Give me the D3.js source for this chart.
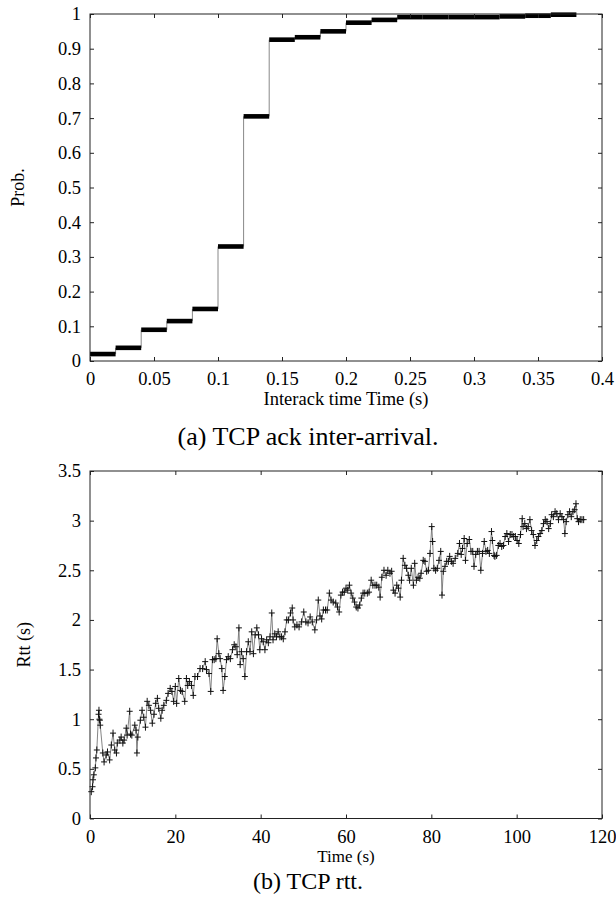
<!DOCTYPE html>
<html>
<head>
<meta charset="utf-8">
<script src="https://cdn.jsdelivr.net/npm/d3@7"></script>
<style>
  body { margin: 0; background: #fff; }
  svg text { font-family: "Liberation Serif", "Times New Roman", serif; fill: #000; }
</style>
</head>
<body>
<div id="chart"></div>
<script>
// (a) ack inter-arrival CDF: step start (s) and cumulative probability
const cdfStart = [0, 0.02, 0.04, 0.06, 0.08, 0.10, 0.12, 0.14, 0.16, 0.18, 0.20, 0.22, 0.24, 0.26, 0.28, 0.30, 0.32, 0.34, 0.36]
const cdfProb  = [0.02, 0.038, 0.09, 0.115, 0.15, 0.33, 0.705, 0.926, 0.933, 0.95, 0.975, 0.983, 0.991, 0.991, 0.991, 0.991, 0.993, 0.995, 0.998]
const cdfEnd = 0.38
const probTicks = [0, 0.1, 0.2, 0.3, 0.4, 0.5, 0.6, 0.7, 0.8, 0.9, 1]
const interTicks = [0, 0.05, 0.1, 0.15, 0.2, 0.25, 0.3, 0.35, 0.4]

// (b) rtt samples: [time (s), rtt (s)]
const rttSamples = [
  [0.3,0.27],[0.6,0.32],[0.7,0.39],[0.9,0.44],[1.25,0.51],[1.4,0.61],[1.6,0.69],[2.0,1.05],[2.1,1.09],[2.2,1.0],
  [2.3,0.99],[2.4,0.94],[3.0,0.66],[3.3,0.57],[3.8,0.64],[4.1,0.67],[4.6,0.59],[5.0,0.74],[5.4,0.86],[5.8,0.69],
  [6.2,0.66],[6.4,0.76],[7.0,0.79],[7.3,0.82],[7.7,0.76],[8.0,0.79],[8.5,0.91],[8.7,0.84],[9.3,1.08],[9.5,0.85],
  [9.8,0.84],[10.5,0.94],[10.8,0.89],[11.0,0.66],[11.2,0.82],[11.8,0.99],[12.2,1.09],[12.6,1.02],[13.0,0.92],[13.4,1.18],
  [13.8,1.14],[14.2,1.09],[14.6,0.96],[15.0,1.05],[15.4,1.16],[15.8,1.21],[16.1,1.11],[16.6,1.01],[16.9,1.09],[17.3,1.14],
  [17.9,1.19],[18.3,1.26],[18.8,1.31],[19.2,1.28],[19.6,1.18],[20.0,1.33],[20.3,1.16],[20.8,1.41],[21.2,1.29],[21.6,1.28],
  [22.2,1.18],[22.6,1.41],[22.9,1.34],[23.3,1.38],[23.8,1.34],[24.2,1.24],[24.6,1.43],[25.2,1.43],[25.8,1.51],[26.4,1.51],
  [27.0,1.58],[27.3,1.50],[27.9,1.46],[28.3,1.28],[28.7,1.60],[29.1,1.60],[29.5,1.61],[29.8,1.81],[30.2,1.66],[30.5,1.61],
  [30.9,1.51],[31.2,1.29],[31.6,1.43],[32.0,1.60],[32.4,1.63],[32.9,1.61],[33.4,1.70],[33.8,1.75],[34.2,1.73],[34.5,1.65],
  [34.9,1.92],[35.2,1.55],[35.5,1.68],[35.9,1.61],[36.3,1.43],[36.7,1.68],[37.1,1.78],[37.5,1.68],[37.9,1.88],[38.3,1.66],
  [38.7,1.85],[39.1,1.92],[39.5,1.85],[39.8,1.70],[40.2,1.81],[40.6,1.78],[41.0,1.70],[41.4,1.80],[41.8,1.77],[42.2,1.83],
  [42.6,2.07],[42.9,1.80],[43.3,1.86],[43.7,1.83],[44.1,1.88],[44.5,1.83],[44.9,1.83],[45.3,1.81],[45.7,1.88],[46.1,2.00],
  [46.5,2.00],[47.0,2.07],[47.4,2.12],[47.6,2.0],[48.0,1.93],[48.5,1.95],[49.0,1.93],[49.6,1.98],[50.1,2.08],[50.6,1.98],
  [51.1,1.97],[51.6,2.03],[52.1,1.98],[52.7,1.90],[53.1,2.0],[53.5,2.20],[53.9,2.04],[54.3,2.01],[54.7,2.10],[55.2,2.10],
  [55.6,2.10],[56.1,2.27],[56.5,2.20],[57.0,2.18],[57.6,2.17],[58.0,2.13],[58.4,2.08],[58.8,2.25],[59.2,2.28],[59.6,2.28],
  [60.0,2.32],[60.4,2.30],[60.8,2.35],[61.2,2.27],[61.6,2.22],[62.0,2.18],[62.4,2.13],[62.8,2.12],[63.2,2.15],[63.6,2.22],
  [64.0,2.27],[64.4,2.27],[65.0,2.27],[65.4,2.28],[65.9,2.40],[66.3,2.35],[66.8,2.35],[67.2,2.35],[67.7,2.33],[68.0,2.23],
  [68.4,2.43],[68.9,2.50],[69.4,2.45],[69.8,2.50],[70.3,2.47],[70.7,2.49],[71.1,2.30],[71.5,2.27],[71.9,2.35],[72.3,2.32],
  [72.7,2.23],[73.0,2.40],[73.4,2.62],[73.8,2.55],[74.2,2.52],[74.6,2.45],[74.9,2.40],[75.3,2.52],[75.8,2.35],[76.1,2.57],
  [76.5,2.40],[76.9,2.43],[77.3,2.42],[77.6,2.47],[78.1,2.60],[78.5,2.59],[78.9,2.49],[79.3,2.50],[79.7,2.67],[80.1,2.94],
  [80.3,2.79],[80.6,2.52],[81.0,2.50],[81.4,2.52],[81.8,2.60],[82.2,2.69],[82.5,2.25],[82.8,2.49],[83.2,2.54],[83.6,2.59],
  [84.0,2.59],[84.3,2.64],[84.7,2.59],[85.1,2.57],[85.6,2.62],[86.2,2.67],[86.6,2.77],[87.0,2.66],[87.3,2.72],[87.7,2.82],
  [88.0,2.60],[88.4,2.77],[88.9,2.81],[89.3,2.69],[89.7,2.69],[90.0,2.54],[90.4,2.66],[90.8,2.69],[91.2,2.69],[91.6,2.50],
  [92.0,2.67],[92.4,2.79],[92.8,2.69],[93.2,2.70],[93.6,2.67],[94.1,2.89],[94.3,2.80],[94.7,2.65],[94.9,2.64],[95.3,2.65],
  [95.7,2.75],[96.1,2.77],[96.5,2.74],[96.9,2.75],[97.3,2.84],[97.7,2.87],[98.1,2.79],[98.5,2.86],[98.9,2.86],[99.3,2.84],
  [99.7,2.84],[100.1,2.80],[100.5,2.77],[100.9,2.86],[101.3,3.02],[101.5,2.94],[101.9,2.97],[102.3,2.92],[102.7,2.94],[103.1,3.01],
  [103.5,2.90],[103.9,2.86],[104.3,2.75],[104.7,2.80],[105.1,2.84],[105.5,2.87],[105.9,2.90],[106.3,2.97],[106.7,3.01],[107.1,2.99],
  [107.5,2.92],[107.9,2.97],[108.2,3.06],[108.6,3.04],[109.0,3.09],[109.4,3.07],[109.8,3.01],[110.2,3.07],[110.6,3.04],[111.0,3.01],
  [111.3,2.87],[111.6,2.99],[112.0,3.06],[112.4,3.09],[112.8,3.04],[113.2,3.09],[113.6,3.11],[113.9,3.17],[114.2,3.02],[114.5,2.99],
  [114.9,3.01],[115.3,3.01],[115.7,3.01]
]
const rttTicks = [0, 0.5, 1, 1.5, 2, 2.5, 3, 3.5]
const timeTicks = [0, 20, 40, 60, 80, 100, 120]

const serif = '"Liberation Serif", "Times New Roman", serif'
const width = 616, height = 899
const svg = d3.select('#chart').append('svg')
  .attr('width', width)
  .attr('height', height)
  .style('font-family', serif)

// gnuplot-like box: ticks inside on all four sides
function drawFrame(g, x, y, xTicks, yTicks) {
  const [x0, x1] = x.range()
  const [y0, y1] = y.range()
  const tick = 4
  g.append('g').attr('transform', `translate(0,${y0})`)
    .call(d3.axisBottom(x).tickValues(xTicks).tickSizeInner(-tick).tickSizeOuter(0).tickPadding(11).tickFormat(d => d))
  g.append('g').attr('transform', `translate(0,${y1})`)
    .call(d3.axisTop(x).tickValues(xTicks).tickSizeInner(-tick).tickSizeOuter(0).tickFormat(''))
  g.append('g').attr('transform', `translate(${x0},0)`)
    .call(d3.axisLeft(y).tickValues(yTicks).tickSizeInner(-tick).tickSizeOuter(0).tickPadding(9).tickFormat(d => d))
  g.append('g').attr('transform', `translate(${x1},0)`)
    .call(d3.axisRight(y).tickValues(yTicks).tickSizeInner(-tick).tickSizeOuter(0).tickFormat(''))
  g.selectAll('.domain').remove()
  g.selectAll('.tick line').attr('stroke', '#222')
  g.selectAll('.tick text').attr('font-size', 18.5).style('font-family', serif)
  g.append('rect')
    .attr('x', x0).attr('y', y1)
    .attr('width', x1 - x0).attr('height', y0 - y1)
    .attr('fill', 'none').attr('stroke', '#222').attr('stroke-width', 1)
}

// ---- (a) ----
const xA = d3.scaleLinear().domain([0, 0.4]).range([90, 602])
const yA = d3.scaleLinear().domain([0, 1]).range([361, 14])
const gA = svg.append('g')

const steps = cdfStart.map((s, i) => ({
  x0: s,
  x1: i < cdfStart.length - 1 ? cdfStart[i + 1] : cdfEnd,
  p: cdfProb[i],
  next: i < cdfStart.length - 1 ? cdfProb[i + 1] : null
}))

gA.selectAll('.riser')
  .data(steps.filter(d => d.next !== null))
  .enter().append('line')
  .attr('class', 'riser')
  .attr('x1', d => xA(d.x1)).attr('x2', d => xA(d.x1))
  .attr('y1', d => yA(d.p)).attr('y2', d => yA(d.next))
  .attr('stroke', '#888').attr('stroke-width', 1)

gA.selectAll('.tread')
  .data(steps)
  .enter().append('rect')
  .attr('class', 'tread')
  .attr('x', d => xA(d.x0))
  .attr('width', d => xA(d.x1) - xA(d.x0))
  .attr('y', d => yA(d.p) - 2.3)
  .attr('height', 4.6)
  .attr('fill', '#000')

drawFrame(gA, xA, yA, interTicks, probTicks)

gA.append('text')
  .attr('transform', `translate(24,${(yA(0) + yA(1)) / 2}) rotate(-90)`)
  .attr('text-anchor', 'middle')
  .attr('font-size', 18)
  .text('Prob.')
gA.append('text')
  .attr('x', xA(0.2)).attr('y', 405)
  .attr('text-anchor', 'middle')
  .attr('font-size', 18.5)
  .text('Interack time Time (s)')
gA.append('text')
  .attr('x', 308).attr('y', 445)
  .attr('text-anchor', 'middle')
  .attr('font-size', 26)
  .text('(a) TCP ack inter-arrival.')

// ---- (b) ----
const xB = d3.scaleLinear().domain([0, 120]).range([90, 602])
const yB = d3.scaleLinear().domain([0, 3.5]).range([818.5, 471])
const gB = svg.append('g')

gB.append('path')
  .datum(rttSamples)
  .attr('d', d3.line().x(d => xB(d[0])).y(d => yB(d[1])))
  .attr('fill', 'none')
  .attr('stroke', '#666')
  .attr('stroke-width', 0.8)

gB.selectAll('.pt')
  .data(rttSamples)
  .enter().append('path')
  .attr('class', 'pt')
  .attr('d', d => {
    const px = xB(d[0]), py = yB(d[1])
    return `M${px - 3},${py}h6M${px},${py - 3.5}v7`
  })
  .attr('stroke', '#111')
  .attr('stroke-width', 1)

drawFrame(gB, xB, yB, timeTicks, rttTicks)

gB.append('text')
  .attr('transform', `translate(30,${(yB(0) + yB(3.5)) / 2}) rotate(-90)`)
  .attr('text-anchor', 'middle')
  .attr('font-size', 18)
  .text('Rtt (s)')
gB.append('text')
  .attr('x', xB(60)).attr('y', 862)
  .attr('text-anchor', 'middle')
  .attr('font-size', 17)
  .text('Time (s)')
gB.append('text')
  .attr('x', 308).attr('y', 889)
  .attr('text-anchor', 'middle')
  .attr('font-size', 24)
  .text('(b) TCP rtt.')
</script>
</body>
</html>
